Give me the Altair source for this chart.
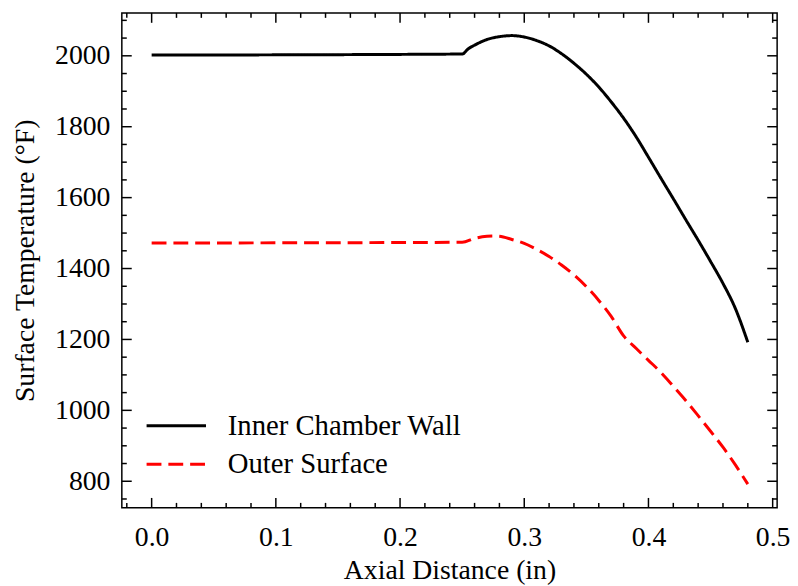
import altair as alt
import pandas as pd

series_names = ["Inner Chamber Wall", "Outer Surface"]
series_colors = ["#000000", "#ff0000"]

inner_x = [0.0, 0.25, 0.255, 0.26, 0.27, 0.28, 0.29, 0.30, 0.31, 0.32, 0.33, 0.34, 0.35,
           0.36, 0.37, 0.38, 0.39, 0.40, 0.41, 0.42, 0.43, 0.44, 0.45, 0.46, 0.47, 0.48]
inner_y = [2002, 2005, 2020, 2030, 2046, 2054, 2057, 2053, 2043, 2028, 2006, 1979, 1948,
           1912, 1870, 1824, 1772, 1714, 1655, 1597, 1538, 1480, 1420, 1358, 1287, 1192]

outer_x = [0.0, 0.25, 0.26, 0.27, 0.275, 0.28, 0.29, 0.30, 0.31, 0.32, 0.33, 0.34, 0.35,
           0.36, 0.37, 0.38, 0.39, 0.40, 0.41, 0.42, 0.43, 0.44, 0.45, 0.46, 0.47, 0.48]
outer_y = [1472, 1474, 1485, 1491, 1492, 1491, 1482, 1471, 1454, 1434, 1410, 1382, 1349,
           1310, 1265, 1210, 1175, 1141, 1107, 1068, 1028, 985, 941, 896, 846, 792]

x_major_ticks = [0.0, 0.1, 0.2, 0.3, 0.4, 0.5]
x_minor_ticks = [-0.02, 0.02, 0.04, 0.06, 0.08, 0.12, 0.14, 0.16, 0.18, 0.22, 0.24, 0.26,
                 0.28, 0.32, 0.34, 0.36, 0.38, 0.42, 0.44, 0.46, 0.48]
y_major_ticks = [800, 1000, 1200, 1400, 1600, 1800, 2000]
y_minor_ticks = [750, 850, 900, 950, 1050, 1100, 1150, 1250, 1300, 1350, 1450, 1500, 1550,
                 1650, 1700, 1750, 1850, 1900, 1950, 2050, 2100]

W, H = 662, 500
FONT = "Liberation Serif"
FS = 28
LEG_FS = 29

df = pd.DataFrame({
    "x": inner_x + outer_x,
    "y": inner_y + outer_y,
    "series": [series_names[0]] * len(inner_x) + [series_names[1]] * len(outer_x),
})

xs = alt.Scale(domain=[-0.024, 0.5036], nice=False, zero=False)
ys = alt.Scale(domain=[725, 2121], nice=False, zero=False)
x_axis = alt.Axis(title="Axial Distance (in)", values=x_major_ticks, format=".1f",
                  ticks=False, domain=False, grid=False, labelPadding=16, titlePadding=5)
y_axis = alt.Axis(title="Surface Temperature (°F)", values=y_major_ticks, format="d",
                  ticks=False, domain=False, grid=False, labelPadding=12, titlePadding=15)

lines = alt.Chart(df).mark_line(strokeWidth=3, clip=True, interpolate="monotone").encode(
    x=alt.X("x:Q", scale=xs, axis=x_axis),
    y=alt.Y("y:Q", scale=ys, axis=y_axis),
    color=alt.Color("series:N", scale=alt.Scale(domain=series_names, range=series_colors), legend=None),
    strokeDash=alt.StrokeDash("series:N", scale=alt.Scale(domain=series_names, range=[[1, 0], [15, 7]]), legend=None),
)

def xticks(vals, length):
    d = pd.DataFrame({"x": vals})
    bottom = alt.Chart(d).mark_rule(color="black", strokeWidth=1.5).encode(
        x=alt.X("x:Q", scale=xs, axis=x_axis), y=alt.value(H), y2=alt.value(H - length))
    top = alt.Chart(d).mark_rule(color="black", strokeWidth=1.5).encode(
        x=alt.X("x:Q", scale=xs, axis=x_axis), y=alt.value(0), y2=alt.value(length))
    return [bottom, top]

def yticks(vals, length):
    d = pd.DataFrame({"y": vals})
    left = alt.Chart(d).mark_rule(color="black", strokeWidth=1.5).encode(
        y=alt.Y("y:Q", scale=ys, axis=y_axis), x=alt.value(0), x2=alt.value(length))
    right = alt.Chart(d).mark_rule(color="black", strokeWidth=1.5).encode(
        y=alt.Y("y:Q", scale=ys, axis=y_axis), x=alt.value(W), x2=alt.value(W - length))
    return [left, right]

tick_layers = (xticks(x_major_ticks, 10) + xticks(x_minor_ticks, 5)
               + yticks(y_major_ticks, 10) + yticks(y_minor_ticks, 5))

leg_rows = [417, 456]
legend_layers = []
for name, col, dash, yy in zip(series_names, series_colors, [[1, 0], [15, 7]], leg_rows):
    ld = pd.DataFrame({"series": [name]})
    legend_layers.append(alt.Chart(ld).mark_rule(color=col, strokeWidth=3, strokeDash=dash).encode(
        x=alt.value(25), x2=alt.value(85), y=alt.value(yy)))
    legend_layers.append(alt.Chart(ld).mark_text(
        align="left", baseline="middle", font=FONT, fontSize=LEG_FS, color="black").encode(
        x=alt.value(107), y=alt.value(yy), text="series:N"))

chart = alt.layer(lines, *tick_layers, *legend_layers).properties(
    width=W, height=H,
    autosize=alt.AutoSizeParams(type="none"),
    padding={"left": 115, "top": 2, "right": 13, "bottom": 76},
).configure_view(
    stroke="black", strokeWidth=1.5
).configure_axis(
    labelFont=FONT, titleFont=FONT, labelFontSize=FS, titleFontSize=FS,
    labelColor="black", titleColor="black", titleFontWeight="normal",
)

chart.save("out.html", embed_options={"renderer": "svg", "actions": False})
